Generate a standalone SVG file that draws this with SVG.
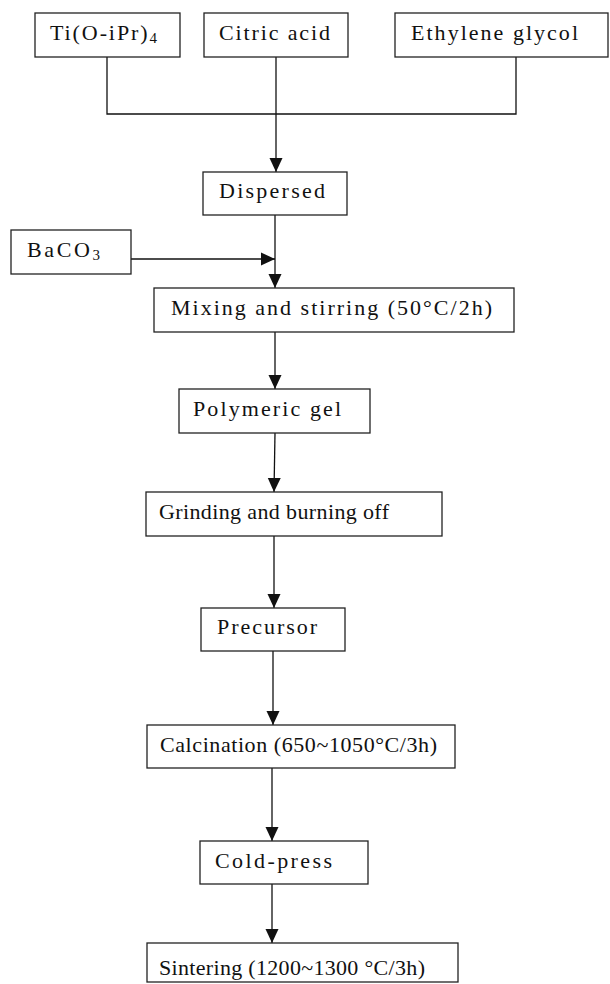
<svg xmlns="http://www.w3.org/2000/svg" width="610" height="984" viewBox="0 0 610 984">
<defs>
<style>
.box{fill:#fff;stroke:#222;stroke-width:1.3}
.lbl{font-family:'Liberation Serif','Times New Roman',serif;font-size:22px;fill:#111}
.conn{fill:none;stroke:#111;stroke-width:1.3}
</style>
<marker id="arr" markerUnits="userSpaceOnUse" markerWidth="14" markerHeight="14" viewBox="0 0 14 14" refX="14" refY="7" orient="auto">
<path d="M0,0.5 L14,7 L0,13.5 Z" fill="#111"/>
</marker>
</defs>
<rect width="610" height="984" fill="#fff"/>
<g id="connectors">
<polyline class="conn" points="107,57 107,114 516,114 516,57"/>
<line class="conn" x1="276" y1="57" x2="276" y2="172" marker-end="url(#arr)"/>
<line class="conn" x1="275" y1="215" x2="275" y2="288" marker-end="url(#arr)"/>
<line class="conn" x1="131" y1="259" x2="275" y2="259" marker-end="url(#arr)"/>
<line class="conn" x1="275" y1="332" x2="275" y2="389" marker-end="url(#arr)"/>
<line class="conn" x1="275" y1="433" x2="274" y2="492" marker-end="url(#arr)"/>
<line class="conn" x1="274" y1="536" x2="274" y2="608" marker-end="url(#arr)"/>
<line class="conn" x1="273" y1="651" x2="273" y2="725" marker-end="url(#arr)"/>
<line class="conn" x1="272" y1="768" x2="272" y2="841" marker-end="url(#arr)"/>
<line class="conn" x1="272" y1="884" x2="272" y2="943" marker-end="url(#arr)"/>
</g>
<g id="ti">
<rect class="box" x="35" y="13" width="145" height="44"/>
<text class="lbl" x="50" y="40" textLength="107">Ti(O-iPr)<tspan font-size="15" dy="3">4</tspan></text>
</g>
<g id="citric">
<rect class="box" x="204" y="13" width="144" height="44"/>
<text class="lbl" x="219" y="40" textLength="111">Citric acid</text>
</g>
<g id="ethylene">
<rect class="box" x="395" y="13" width="213" height="44"/>
<text class="lbl" x="411" y="40" textLength="167">Ethylene glycol</text>
</g>
<g id="dispersed">
<rect class="box" x="203" y="172" width="144" height="43"/>
<text class="lbl" x="219" y="198" textLength="106">Dispersed</text>
</g>
<g id="baco3">
<rect class="box" x="11" y="230" width="120" height="44"/>
<text class="lbl" x="27" y="257" textLength="73">BaCO<tspan font-size="15" dy="3">3</tspan></text>
</g>
<g id="mixing">
<rect class="box" x="154" y="288" width="360" height="44"/>
<text class="lbl" x="171" y="315" textLength="321">Mixing and stirring (50°C/2h)</text>
</g>
<g id="polymeric">
<rect class="box" x="179" y="389" width="191" height="44"/>
<text class="lbl" x="193" y="416" textLength="148">Polymeric gel</text>
</g>
<g id="grinding">
<rect class="box" x="146" y="492" width="296" height="44"/>
<text class="lbl" x="159" y="519" textLength="230">Grinding and burning off</text>
</g>
<g id="precursor">
<rect class="box" x="201" y="608" width="144" height="43"/>
<text class="lbl" x="217" y="634" textLength="100">Precursor</text>
</g>
<g id="calcination">
<rect class="box" x="147" y="725" width="308" height="43"/>
<text class="lbl" x="160" y="752" textLength="277">Calcination (650~1050°C/3h)</text>
</g>
<g id="coldpress">
<rect class="box" x="200" y="841" width="168" height="43"/>
<text class="lbl" x="215" y="868" textLength="117">Cold-press</text>
</g>
<g id="sintering">
<rect class="box" x="147" y="943" width="311" height="39"/>
<text class="lbl" x="159" y="975" textLength="266">Sintering (1200~1300 °C/3h)</text>
</g>
</svg>
